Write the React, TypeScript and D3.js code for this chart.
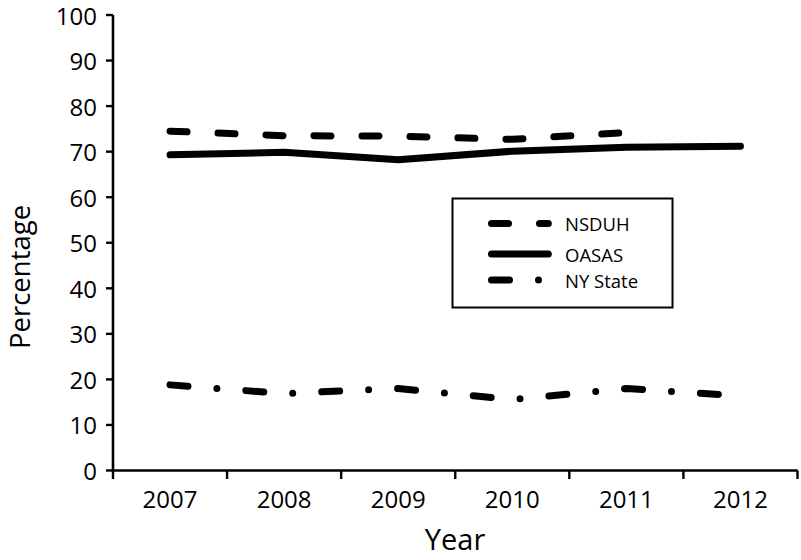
import * as d3 from 'd3'
import { useEffect, useRef } from 'react'

const years = ['2007', '2008', '2009', '2010', '2011', '2012']
const yTicks = [0, 10, 20, 30, 40, 50, 60, 70, 80, 90, 100]

const nsduh = [74.5, 73.5, 73.4, 72.7, 74.2]
const oasas = [69.3, 69.85, 68.2, 70.1, 70.95, 71.2]
const nyState = [18.8, 16.9, 18.0, 15.6, 18.0, 16.4]

const seriesNames = ['NSDUH', 'OASAS', 'NY State']
const dashes = ['17,31', null, '18,29,0,29']

const FONT = '"Open Sans", sans-serif'

export default function App() {
  const ref = useRef<SVGSVGElement>(null)

  useEffect(() => {
    const svg = d3.select(ref.current)
    svg.selectAll('*').remove()

    const left = 113
    const right = 797.5
    const top = 15
    const bottom = 470.5

    const x = d3.scaleBand().domain(years).range([left, right])
    const cx = (yr: string) => (x(yr) as number) + x.bandwidth() / 2
    const y = d3.scaleLinear().domain([0, 100]).range([bottom, top])

    // axes
    svg.append('line')
      .attr('x1', left).attr('x2', left).attr('y1', top).attr('y2', bottom)
      .attr('stroke', '#000').attr('stroke-width', 2.6)
    svg.append('line')
      .attr('x1', left - 1.3).attr('x2', right).attr('y1', bottom).attr('y2', bottom)
      .attr('stroke', '#000').attr('stroke-width', 2.6)

    const yt = svg.append('g')
    yTicks.forEach((t) => {
      yt.append('line')
        .attr('x1', left - 7).attr('x2', left).attr('y1', y(t)).attr('y2', y(t))
        .attr('stroke', '#000').attr('stroke-width', 2.4)
      yt.append('text')
        .attr('x', 97).attr('y', y(t))
        .attr('text-anchor', 'end').attr('dominant-baseline', 'central')
        .attr('font-family', FONT).attr('font-size', 24)
        .text(t)
    })

    const bounds = years.map((yr) => x(yr) as number).concat([right])
    bounds.forEach((b) => {
      svg.append('line')
        .attr('x1', b).attr('x2', b).attr('y1', bottom).attr('y2', bottom + 8.5)
        .attr('stroke', '#000').attr('stroke-width', 2.4)
    })
    years.forEach((yr) => {
      svg.append('text')
        .attr('x', cx(yr)).attr('y', 508)
        .attr('text-anchor', 'middle')
        .attr('font-family', FONT).attr('font-size', 24)
        .text(yr)
    })

    // titles
    svg.append('text')
      .attr('x', 455).attr('y', 550)
      .attr('text-anchor', 'middle')
      .attr('font-family', FONT).attr('font-size', 29)
      .text('Year')
    svg.append('text')
      .attr('transform', 'translate(30,277) rotate(-90)')
      .attr('text-anchor', 'middle')
      .attr('font-family', FONT).attr('font-size', 27.5)
      .text('Percentage')

    // lines
    const line = d3.line<[string, number]>()
      .x((d) => cx(d[0]))
      .y((d) => y(d[1]))
    const all = [nsduh, oasas, nyState]
    all.forEach((vals, i) => {
      const p = svg.append('path')
        .datum(vals.map((v, j) => [years[j], v] as [string, number]))
        .attr('fill', 'none')
        .attr('stroke', '#000')
        .attr('stroke-width', 7)
        .attr('stroke-linecap', 'round')
        .attr('stroke-linejoin', 'round')
        .attr('d', line)
      if (dashes[i]) p.attr('stroke-dasharray', dashes[i])
    })

    // legend
    const lg = svg.append('g')
    lg.append('rect')
      .attr('x', 452.5).attr('y', 198.5).attr('width', 220).attr('height', 109)
      .attr('fill', '#fff').attr('stroke', '#000').attr('stroke-width', 2)
    const rows = [223.5, 254, 280]
    seriesNames.forEach((name, i) => {
      const l = lg.append('line')
        .attr('x1', 491.5).attr('x2', 548.3).attr('y1', rows[i]).attr('y2', rows[i])
        .attr('stroke', '#000').attr('stroke-width', 7).attr('stroke-linecap', 'round')
      if (dashes[i]) l.attr('stroke-dasharray', dashes[i])
      lg.append('text')
        .attr('x', 565).attr('y', rows[i])
        .attr('dominant-baseline', 'central')
        .attr('font-family', FONT).attr('font-size', 18.5)
        .text(name)
    })
  }, [])

  return (
    <svg
      ref={ref}
      width={801}
      height={560}
      style={{ position: 'absolute', left: 0, top: 0, background: '#fff' }}
    />
  )
}
